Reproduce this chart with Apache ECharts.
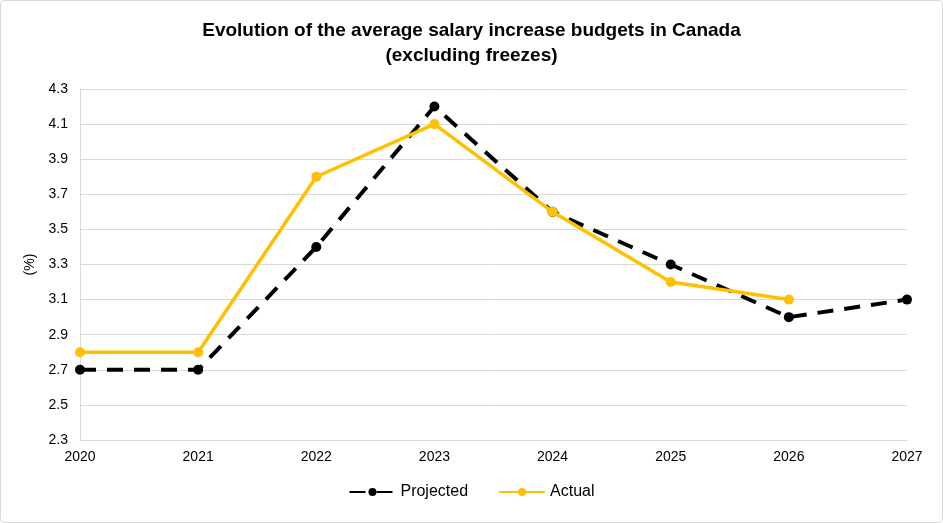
<!DOCTYPE html>
<html><head><meta charset="utf-8">
<script src="https://cdn.jsdelivr.net/npm/echarts@6/dist/echarts.min.js"></script>
<style>
html,body{margin:0;padding:0;background:#fff;}
#frame{position:absolute;left:0;top:0;width:941px;height:521px;border:1px solid #d9d9d9;border-radius:4px;}
#c{position:absolute;left:0;top:0;width:943px;height:523px;}
</style></head>
<body><div id="frame"></div><div id="c"></div>
<script>
const years = ['2020','2021','2022','2023','2024','2025','2026','2027'];
const projected = [2.7, 2.7, 3.4, 4.2, 3.6, 3.3, 3.0, 3.1];
const actual = [2.8, 2.8, 3.8, 4.1, 3.6, 3.2, 3.1, null];
const titleText = 'Evolution of the average salary increase budgets in Canada\n(excluding freezes)';

const chart = echarts.init(document.getElementById('c'));
const font = 'Liberation Sans, Arial, sans-serif';
chart.setOption({
  animation: false,
  title: {
    text: titleText, left: 'center', top: 13,
    textStyle: {fontFamily: font, fontSize: 19, fontWeight: 'bold', color: '#000', lineHeight: 25}
  },
  grid: {left: 80, right: 36, top: 89, bottom: 83},
  legend: {
    bottom: 18, left: 'center', itemWidth: 46, itemHeight: 10, itemGap: 30,
    textStyle: {fontFamily: font, fontSize: 16, color: '#000'},
    data: ['Projected', 'Actual']
  },
  xAxis: {
    type: 'category', data: years, boundaryGap: false,
    axisLine: {lineStyle: {color: '#d9d9d9', width: 1}},
    axisTick: {show: false},
    axisLabel: {fontFamily: font, fontSize: 14, color: '#000', margin: 10}
  },
  yAxis: {
    type: 'value', min: 2.3, max: 4.3, interval: 0.2,
    name: '(%)', nameLocation: 'middle', nameGap: 42, nameRotate: 90,
    nameTextStyle: {fontFamily: font, fontSize: 14, color: '#000'},
    axisLine: {show: true, lineStyle: {color: '#d9d9d9'}},
    axisTick: {show: false},
    splitLine: {lineStyle: {color: '#d9d9d9', width: 1}},
    axisLabel: {fontFamily: font, fontSize: 14, color: '#000', margin: 12,
      formatter: v => v.toFixed(1)}
  },
  series: [
    {
      name: 'Projected', type: 'line', data: projected,
      symbol: 'circle', symbolSize: 10,
      lineStyle: {color: '#000', width: 4, type: [16, 11]},
      itemStyle: {color: '#000'}, z: 2
    },
    {
      name: 'Actual', type: 'line', data: actual,
      symbol: 'circle', symbolSize: 10,
      lineStyle: {color: '#FFC000', width: 3.5},
      itemStyle: {color: '#FFC000'}, z: 3
    }
  ]
});
</script></body></html>
